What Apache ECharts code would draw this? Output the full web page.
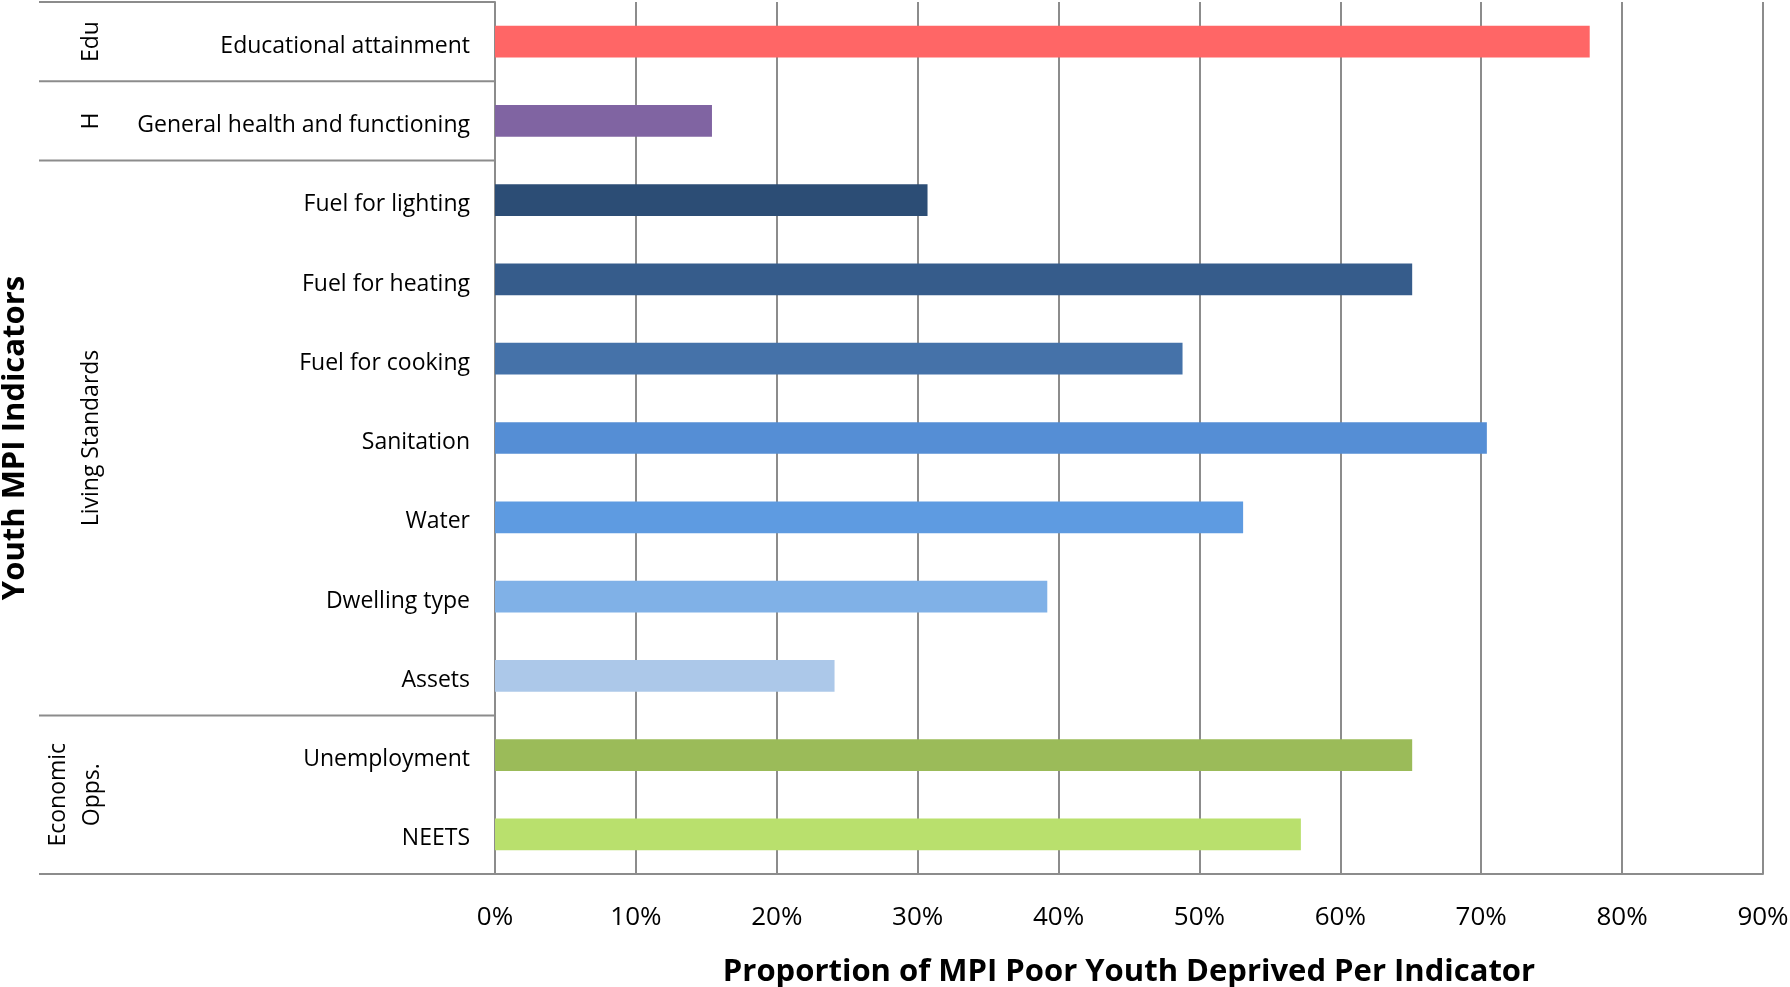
<!DOCTYPE html>
<html>
<head>
<meta charset="utf-8">
<script src="https://cdn.jsdelivr.net/npm/echarts@6/dist/echarts.min.js"></script>
<style>
html,body{margin:0;padding:0;background:#fff;}
#chart{width:1790px;height:987px;}
</style>
</head>
<body>
<div id="chart"></div>
<script>
// ---- data ----
const categories = ['Educational attainment','General health and functioning','Fuel for lighting','Fuel for heating','Fuel for cooking','Sanitation','Water','Dwelling type','Assets','Unemployment','NEETS'];
const values = [0.777, 0.154, 0.307, 0.651, 0.488, 0.704, 0.531, 0.392, 0.241, 0.651, 0.572];
const groupNames = ['Edu', 'H', 'Living Standards', 'Economic\nOpps.'];
const groupSizes = [1, 1, 7, 2];
const xTicks = [0, 0.1, 0.2, 0.3, 0.4, 0.5, 0.6, 0.7, 0.8, 0.9];
// ---- styles ----
const barColors = ['#FF6666','#8064A2','#2C4D75','#365C8B','#4572A9','#558ED5','#5E9BE1','#80B1E7','#ACC8E9','#9BBB59','#B9E06D'];
const gridColor = '#8C8C8C';
const labelFont = 'Open Sans';

const chart = echarts.init(document.getElementById('chart'), null, {renderer:'canvas'});
const option = {
  backgroundColor: '#fff',
  animation: false,
  grid: {left: 495, right: 27, top: 2, bottom: 113, containLabel: false, outerBoundsMode: 'none'},
  xAxis: {
    type: 'value', min: xTicks[0], max: xTicks[xTicks.length-1], interval: 0.1,
    axisLine: {show: true, lineStyle: {color: gridColor, width: 2}},
    axisTick: {show: false},
    splitLine: {show: true, lineStyle: {color: gridColor, width: 2}},
    axisLabel: {
      formatter: v => Math.round(v*100) + '%',
      fontFamily: labelFont, fontSize: 26, color: '#000', margin: 31
    },
    name: 'Proportion of MPI Poor Youth Deprived Per Indicator',
    nameLocation: 'middle', nameGap: 83,
    nameTextStyle: {fontFamily: labelFont, fontSize: 31, fontWeight: 'bold', color: '#000'}
  },
  yAxis: {
    type: 'category', data: categories, inverse: true,
    axisLine: {show: true, lineStyle: {color: gridColor, width: 2}},
    axisTick: {show: false},
    axisLabel: {
      margin: 25,
      formatter: v => '{a|' + v + '}',
      rich: {a: {fontFamily: labelFont, fontSize: 23, color: '#000', padding: [9, 0, 0, 0]}}
    }
  },
  series: [{
    type: 'bar',
    data: values.map((v, i) => ({value: v, itemStyle: {color: barColors[i]}})),
    barWidth: '40%'
  }]
};
chart.setOption(option);

// group annotations, positioned through the category axis scale
function drawGroups() {
  const p0 = chart.convertToPixel({yAxisIndex: 0}, categories[0]);
  const p1 = chart.convertToPixel({yAxisIndex: 0}, categories[1]);
  const band = p1 - p0;
  const axisX = chart.convertToPixel({xAxisIndex: 0}, 0);
  const leftX = 39;
  const elements = [];
  let start = 0;
  const boundary = idx => chart.convertToPixel({yAxisIndex: 0}, categories[Math.min(idx, categories.length-1)]) + (idx >= categories.length ? band/2 : -band/2);
  elements.push({type:'line', shape:{x1:leftX, y1:boundary(0), x2:axisX, y2:boundary(0)}, style:{stroke:gridColor, lineWidth:2}});
  groupSizes.forEach((n, g) => {
    const yTop = boundary(start);
    const yBot = boundary(start + n);
    elements.push({type:'line', shape:{x1:leftX, y1:yBot, x2:axisX, y2:yBot}, style:{stroke:gridColor, lineWidth:2}});
    const multi = groupNames[g].indexOf('\n') >= 0;
    elements.push({
      type:'text', x: multi ? 75 : 91, y: (yTop + yBot)/2, rotation: Math.PI/2,
      style:{text: groupNames[g], fontFamily: labelFont, fontSize: 23, fill:'#000', align:'center', verticalAlign:'middle', lineHeight: 34}
    });
    start += n;
  });
  elements.push({
    type:'text', x: 15, y: (boundary(0) + boundary(categories.length))/2, rotation: Math.PI/2,
    style:{text:'Youth MPI Indicators', fontFamily: labelFont, fontSize: 31, fontWeight:'bold', fill:'#000', align:'center', verticalAlign:'middle'}
  });
  chart.setOption({graphic: {elements: elements}});
}
drawGroups();
</script>
</body>
</html>
